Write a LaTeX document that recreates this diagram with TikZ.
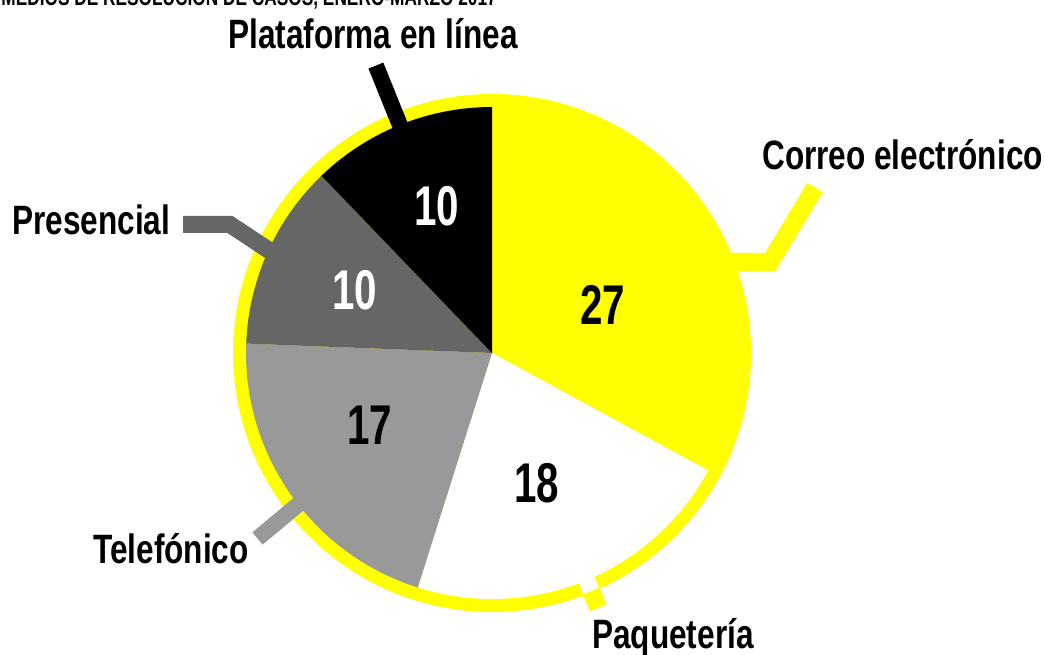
\documentclass[tikz,border=0pt]{standalone}
\usepackage{fontspec}
\newfontfamily\condfont{Liberation Sans}[FakeStretch=0.77]
\newfontfamily\numfont{Liberation Sans}[FakeStretch=0.72]
\usepackage{tikz}
\definecolor{pieyellow}{RGB}{255,255,0}
\definecolor{piedark}{RGB}{102,102,102}
\definecolor{pielight}{RGB}{153,153,153}

\begin{document}
\begin{tikzpicture}[x=1pt,y=-1pt,
    labeltext/.style={font=\condfont\bfseries\fontsize{41}{41}\selectfont, inner sep=0pt},
    valuetext/.style={font=\numfont\bfseries\fontsize{56}{56}\selectfont, inner sep=0pt},
    leader/.style={line width=17pt, line join=miter}]
        \useasboundingbox (0,0) rectangle (1045,655);
        \clip (0,0) rectangle (1045,655);

        % Text Node
        \draw (497,6) node [anchor=base east][inner sep=0pt, font=\numfont\bfseries\fontsize{24}{24}\selectfont] (title) {MEDIOS DE RESOLUCIÓN DE CASOS, ENERO-MARZO 2017};

        \begin{scope}[shift={(492,353)}, yscale=-1]
        %Shape: Circle (ring)
        \fill [pieyellow] (0,0) circle [radius=259];
        %Shape: Slices
        \fill [pieyellow] (0,0) -- (90:246) arc [start angle=90, end angle=-28.54, radius=246] -- cycle;
        \fill [white] (0,0) -- (-28.54:246) arc [start angle=-28.54, end angle=-107.56, radius=246] -- cycle;
        \fill [pielight] (0,0) -- (-107.56:246) arc [start angle=-107.56, end angle=-182.2, radius=246] -- cycle;
        \fill [piedark] (0,0) -- (-182.2:246) arc [start angle=-182.2, end angle=-226.1, radius=246] -- cycle;
        \fill [black] (0,0) -- (-226.1:246) arc [start angle=-226.1, end angle=-270, radius=246] -- cycle;

        % leader points
        \coordinate (plat-in) at (112:236);
        \coordinate (plat-out) at (112:310);
        \coordinate (paq-gap-in) at (-67.4:243);
        \coordinate (paq-gap-out) at (-67.4:260);
        \coordinate (paq-in) at (-67.4:258);
        \coordinate (paq-out) at (-67.4:276);
        \end{scope}

        \coordinate (pres-in) at (276,255);
        \coordinate (pres-bend) at (230,224.5);
        \coordinate (pres-out) at (183,224.5);
        \coordinate (corr-in) at (725,262);
        \coordinate (corr-bend) at (770,262);
        \coordinate (corr-out) at (815,187.5);
        \coordinate (tel-in) at (306,498);
        \coordinate (tel-out) at (257.5,538.5);

        %Straight Lines
        \draw [leader, black, line width=16pt] (plat-in) -- (plat-out);
        %Straight Lines
        \draw [leader, piedark] (pres-in) -- (pres-bend) -- (pres-out);
        %Straight Lines
        \draw [leader, pieyellow, line width=18pt] (corr-in) -- (corr-bend) -- (corr-out);
        %Straight Lines
        \draw [leader, pielight, line width=16pt] (tel-in) -- (tel-out);
        %Straight Lines
        \draw [white, line width=17pt] (paq-gap-in) -- (paq-gap-out);
        \draw [pieyellow, line width=18pt] (paq-in) -- (paq-out);

        % Text Node
        \draw (228,49) node [labeltext, anchor=base west] (plataforma) {Plataforma en línea};
        % Text Node
        \draw (762,170) node [labeltext, anchor=base west] (correo) {Correo electrónico};
        % Text Node
        \draw (12,235) node [labeltext, anchor=base west] (presencial) {Presencial};
        % Text Node
        \draw (93,563) node [labeltext, anchor=base west] (telefonico) {Telefónico};
        % Text Node
        \draw (592,648) node [labeltext, anchor=base west] (paqueteria) {Paquetería};

        % Text Node
        \draw (603,305) node [valuetext] (v-correo) {27};
        % Text Node
        \draw (537,483) node [valuetext] (v-paq) {18};
        % Text Node
        \draw (370,425) node [valuetext] (v-tel) {17};
        % Text Node
        \draw (355,290) node [valuetext, white] (v-pres) {10};
        % Text Node
        \draw (437,206) node [valuetext, white] (v-plat) {10};
\end{tikzpicture}
\end{document}
